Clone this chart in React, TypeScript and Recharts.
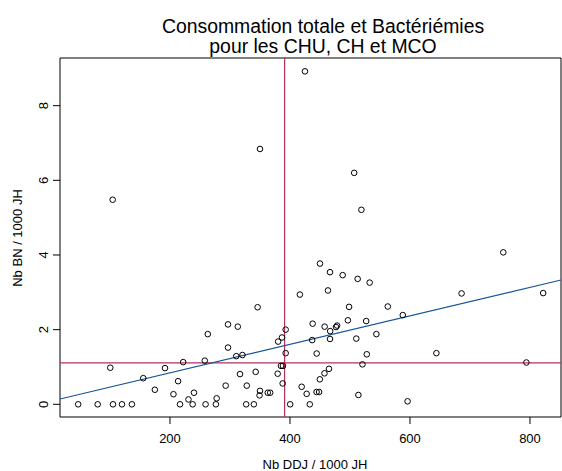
import React from 'react'
import { ScatterChart, Scatter, XAxis, YAxis, ReferenceLine, ReferenceArea } from 'recharts'

// DDJ per 1000 JH (x) and BN per 1000 JH (y), one entry per establishment
const ddj = [
  47, 79.5, 105, 120, 136.5, 216.7, 237.8, 259.3, 276.5, 327, 339.8, 400.3, 433,
  100.5, 104.5, 155.5, 174.8, 191.7, 205.8, 213.5, 222, 230.8, 240, 258, 263,
  277.8, 292.8, 296.7, 296.7, 310.5, 313, 316.7, 320.8, 328, 342.8, 346, 349.3,
  350, 350, 363, 367, 379.5, 380.3, 386.7, 385, 388.3, 387.8, 392.8, 392.8,
  416.5, 419.5, 425, 427.8, 437.8, 437, 444.5, 444.3, 448.5, 450, 449.8, 457.5,
  457.8, 463.3, 465, 466.7, 467, 466.7, 476.7, 478.5, 487.8, 496.5, 498.5, 507,
  510.5, 512.8, 514, 519, 520.8, 527, 528, 532.8, 544, 563, 588, 596, 644, 686,
  755.5, 794, 822,
]
const bn = [
  0, 0, 0, 0, 0, 0, 0, 0, 0, 0, 0, 0, 0,
  0.98, 5.48, 0.7, 0.39, 0.97, 0.27, 0.62, 1.13, 0.13, 0.31, 1.17, 1.88,
  0.16, 0.5, 2.14, 1.52, 1.29, 2.08, 0.81, 1.32, 0.5, 0.87, 2.6, 0.24,
  0.36, 6.84, 0.31, 0.31, 0.82, 1.68, 1.79, 1.03, 1.03, 0.56, 2.0, 1.37,
  2.94, 0.47, 8.92, 0.28, 2.16, 1.72, 1.36, 0.33, 0.33, 3.77, 0.67, 0.83,
  2.08, 3.05, 0.95, 3.54, 1.96, 1.75, 2.07, 2.11, 3.46, 2.25, 2.61, 6.2,
  1.76, 3.36, 0.25, 5.21, 1.07, 2.23, 1.34, 3.26, 1.88, 2.62, 2.39, 0.08, 1.37, 2.97,
  4.07, 1.12, 2.98,
]

const xTicks = [200, 400, 600, 800]
const yTicks = [0, 2, 4, 6, 8]

// plot region limits (R style 4% padding)
const X_MIN = 16.7
const X_MAX = 851.7
const Y_MIN = -0.34
const Y_MAX = 9.277

// medians and linear fit
const ddjCut = 391
const bnCut = 1.11
const fitIntercept = 0.078
const fitSlope = 0.003818

const points = ddj.map((x, i) => ({ x, y: bn[i] }))

const FONT = '"Liberation Sans", Arial, Helvetica, sans-serif'
const MAROON = '#B03060'
const BLUE = '#16559A'

const XTick = ({ x, y, payload }: any) => (
  <text x={x} y={y + 17} textAnchor="middle" fontSize={13} fontFamily={FONT} fill="#000">
    {payload.value}
  </text>
)

const YTick = ({ x, y, payload }: any) => (
  <text
    x={x - 3}
    y={y}
    transform={`rotate(-90 ${x - 3} ${y})`}
    textAnchor="middle"
    fontSize={13}
    fontFamily={FONT}
    fill="#000"
  >
    {payload.value}
  </text>
)

const OpenCircle = (props: any) => (
  <circle cx={props.cx} cy={props.cy} r={2.8} fill="none" stroke="#000" strokeWidth={1} />
)

export default function App() {
  return (
    <div style={{ position: 'absolute', left: 0, top: 0, width: 562, height: 471, background: '#fff' }}>
      <ScatterChart width={562} height={471} margin={{ top: 58, right: 1, bottom: 0, left: 0 }}>
        <XAxis
          type="number"
          dataKey="x"
          domain={[X_MIN, X_MAX]}
          ticks={xTicks}
          allowDataOverflow
          height={54}
          axisLine={false}
          tickSize={7}
          tickLine={{ stroke: '#000' }}
          tick={<XTick />}
        />
        <YAxis
          type="number"
          dataKey="y"
          domain={[Y_MIN, Y_MAX]}
          ticks={yTicks}
          allowDataOverflow
          width={60}
          axisLine={false}
          tickSize={7}
          tickLine={{ stroke: '#000' }}
          tick={<YTick />}
        />
        <ReferenceArea x1={X_MIN} x2={X_MAX} y1={Y_MIN} y2={Y_MAX} fill="none" stroke="#000" strokeWidth={1} fillOpacity={0} />
        <Scatter data={points} shape={<OpenCircle />} isAnimationActive={false} />
        <ReferenceLine x={ddjCut} stroke={MAROON} strokeWidth={1.2} />
        <ReferenceLine y={bnCut} stroke={MAROON} strokeWidth={1.2} />
        <ReferenceLine
          segment={[
            { x: X_MIN, y: fitIntercept + fitSlope * X_MIN },
            { x: X_MAX, y: fitIntercept + fitSlope * X_MAX },
          ]}
          stroke={BLUE}
          strokeWidth={1.2}
        />
      </ScatterChart>
      <svg width={562} height={471} style={{ position: 'absolute', left: 0, top: 0, pointerEvents: 'none' }}>
        <g fontFamily={FONT} fill="#000" textAnchor="middle">
          <text x={323} y={33} fontSize={19.4}>Consommation totale et Bactériémies</text>
          <text x={323} y={53} fontSize={19.4}>pour les CHU, CH et MCO</text>
          <text x={315} y={469} fontSize={13}>Nb DDJ / 1000 JH</text>
          <text x={22} y={238} fontSize={13} transform="rotate(-90 22 238)">Nb BN / 1000 JH</text>
        </g>
      </svg>
    </div>
  )
}
